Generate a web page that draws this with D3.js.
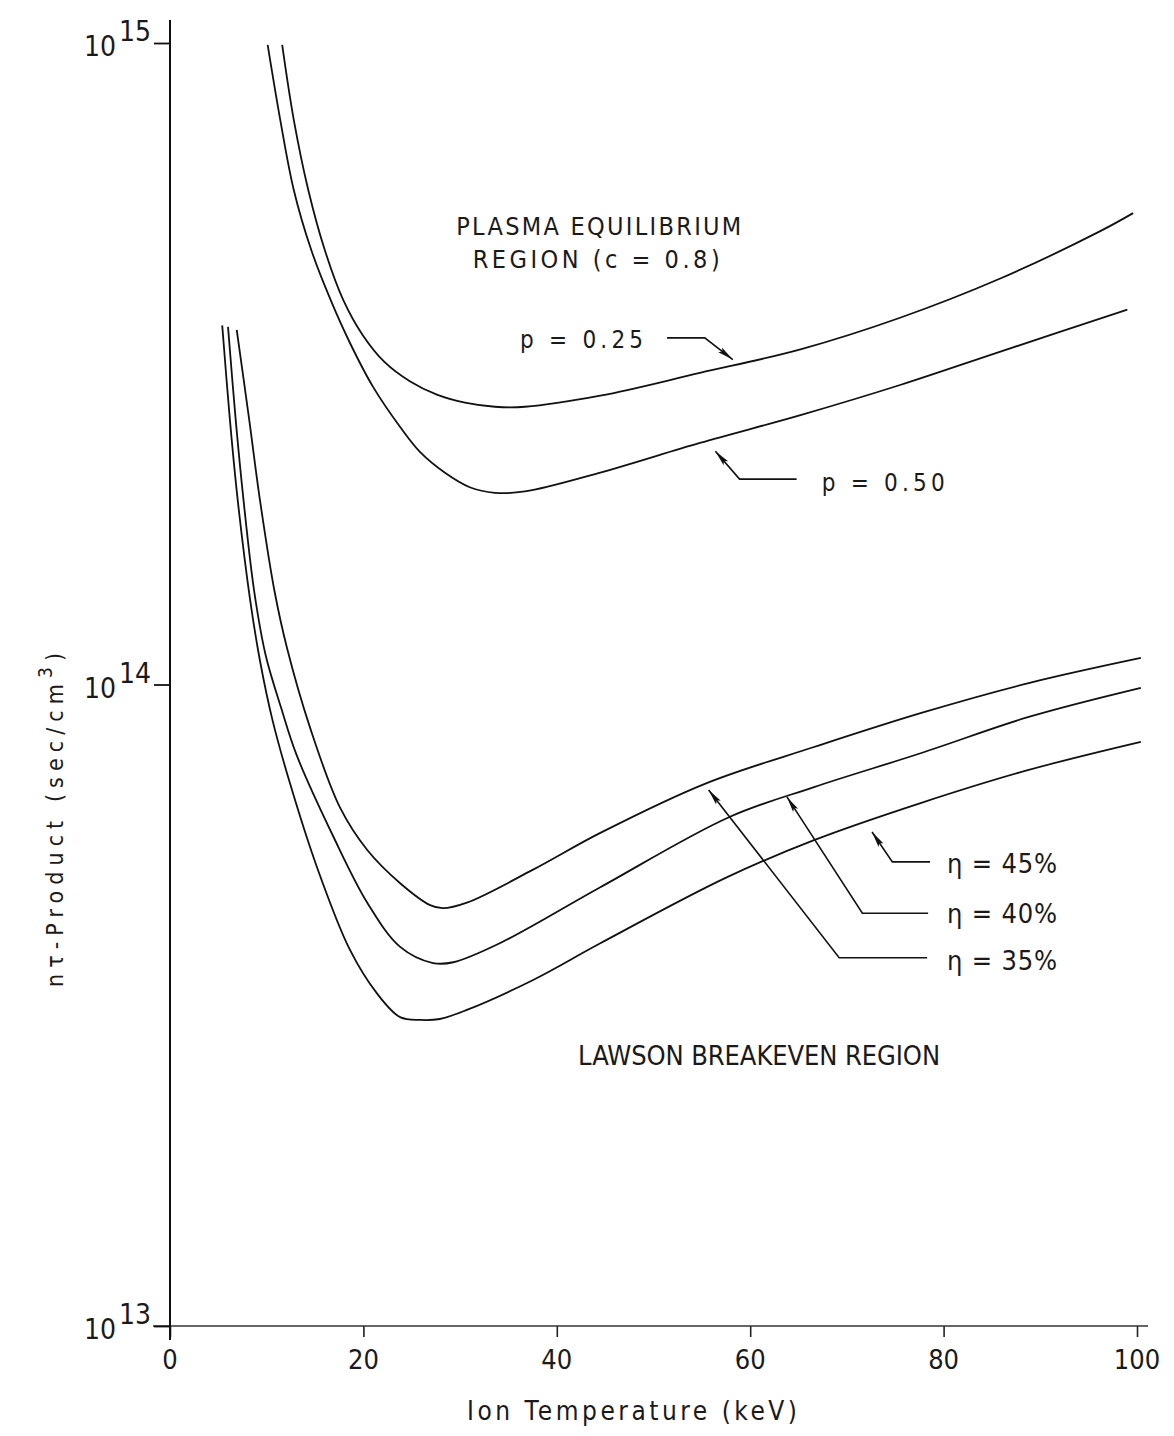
<!DOCTYPE html>
<html><head><meta charset="utf-8">
<script src="https://cdn.jsdelivr.net/npm/d3@7"></script>
<style>
html,body{margin:0;padding:0;background:#fff;}
svg{display:block;}
text{font-family:"Liberation Sans Narrow","DejaVu Sans Condensed","Arial Narrow","Liberation Sans",sans-serif;fill:#1a1a1a;}
</style></head><body>
<svg id="chart" width="1174" height="1436"></svg>
<script>
// ---- tick labels ----
const xTicks = [0, 20, 40, 60, 80, 100];
const yTicks = [1e13, 1e14, 1e15];
const yTickExp = ["13", "14", "15"];

// ---- series: Ion temperature (keV) and n-tau product (sec/cm^3) ----
const p025T = [11.6, 12.8, 14.3, 16.0, 17.9, 19.9, 22.2, 24.8, 27.6, 30.5, 33.6, 36.7, 44.5, 54.8, 65.2, 75.5, 85.8, 96.2, 99.6];
const p025N = [9.93e14, 7.59e14, 5.90e14, 4.76e14, 3.98e14, 3.51e14, 3.18e14, 2.97e14, 2.83e14, 2.75e14, 2.71e14, 2.71e14, 2.82e14, 3.06e14, 3.33e14, 3.73e14, 4.29e14, 5.09e14, 5.43e14];

const p050T = [10.1, 11.4, 12.8, 14.6, 16.6, 18.6, 21.0, 23.8, 25.9, 28.4, 31.0, 33.6, 36.7, 44.5, 54.8, 65.2, 75.5, 85.8, 99.0];
const p050N = [9.93e14, 7.59e14, 5.90e14, 4.76e14, 3.98e14, 3.41e14, 2.91e14, 2.52e14, 2.30e14, 2.14e14, 2.03e14, 1.99e14, 2.00e14, 2.14e14, 2.38e14, 2.63e14, 2.93e14, 3.30e14, 3.84e14];

const eta35T = [6.9, 8.2, 9.3, 10.8, 12.1, 14.5, 17.6, 20.4, 23.8, 26.9, 28.2, 30.7, 37.5, 44.5, 55.5, 66.6, 77.7, 88.8, 100.4];
const eta35N = [3.57e14, 2.58e14, 1.94e14, 1.40e14, 1.14e14, 8.55e13, 6.42e13, 5.52e13, 4.90e13, 4.53e13, 4.48e13, 4.57e13, 5.14e13, 5.87e13, 7.02e13, 7.99e13, 9.03e13, 1.005e14, 1.10e14];

const eta40T = [6.0, 6.8, 7.6, 8.7, 9.9, 11.5, 13.1, 16.9, 20.4, 23.8, 27.2, 29.3, 34.1, 44.5, 57.8, 66.6, 77.7, 88.8, 100.4];
const eta40N = [3.61e14, 2.58e14, 1.94e14, 1.40e14, 1.11e14, 9.19e13, 7.76e13, 5.79e13, 4.57e13, 3.90e13, 3.68e13, 3.69e13, 3.95e13, 4.83e13, 6.21e13, 6.92e13, 7.82e13, 8.90e13, 9.88e13];

const eta45T = [5.4, 6.2, 7.0, 8.3, 9.3, 10.6, 12.4, 15.2, 18.6, 21.4, 23.8, 25.9, 27.9, 30.7, 37.5, 44.5, 57.4, 66.6, 77.7, 88.8, 100.4];
const eta45N = [3.63e14, 2.58e14, 1.94e14, 1.35e14, 1.09e14, 8.80e13, 7.02e13, 5.19e13, 3.86e13, 3.30e13, 3.03e13, 3.00e13, 3.01e13, 3.11e13, 3.46e13, 3.95e13, 4.99e13, 5.72e13, 6.54e13, 7.36e13, 8.14e13];

// ---- annotations (anchored in data units) ----
const labels = [
  {txt: "PLASMA EQUILIBRIUM", t: 29.6, n: 5.02e14, w: 285, fs: 25},
  {txt: "REGION (c = 0.8)", t: 31.3, n: 4.46e14, w: 247, fs: 25},
  {txt: "p = 0.25", t: 36.2, n: 3.35e14, w: 123, fs: 24},
  {txt: "p = 0.50", t: 67.4, n: 2.00e14, w: 123, fs: 24},
  {txt: "LAWSON BREAKEVEN REGION", t: 42.2, n: 2.55e13, w: 362, fs: 27},
  {txt: "η = 45%", t: 80.35, n: 5.08e13, w: 110, fs: 27},
  {txt: "η = 40%", t: 80.35, n: 4.25e13, w: 110, fs: 27},
  {txt: "η = 35%", t: 80.35, n: 3.59e13, w: 110, fs: 27}
];
const leaders = [
  [[51.4, 3.47e14], [55.3, 3.47e14], [58.2, 3.21e14]],
  [[64.8, 2.09e14], [58.9, 2.09e14], [56.4, 2.31e14]],
  [[78.6, 5.29e13], [74.7, 5.29e13], [72.6, 5.89e13]],
  [[78.4, 4.40e13], [71.6, 4.40e13], [63.8, 6.68e13]],
  [[78.3, 3.75e13], [69.2, 3.75e13], [55.7, 6.85e13]]
];

const svg = d3.select("#chart");
const x = d3.scaleLinear().domain([0, 100]).range([170, 1137]);
const y = d3.scaleLog().domain([1e13, 1e15]).range([1326, 43]);

const defs = svg.append("defs");
defs.append("marker").attr("id", "ah")
  .attr("viewBox", "-17 -4 18 8").attr("refX", 0).attr("refY", 0)
  .attr("markerWidth", 18).attr("markerHeight", 8)
  .attr("markerUnits", "userSpaceOnUse").attr("orient", "auto")
  .append("path").attr("d", "M0,0L-16,-3L-13,0L-16,3Z").attr("fill", "#111");

// axes
const gx = svg.append("g").attr("transform", `translate(0,${y(1e13)})`)
  .call(d3.axisBottom(x).tickValues(xTicks).tickSize(11).tickFormat(""));
gx.select(".domain").remove();
gx.selectAll(".tick line").attr("stroke", "#222").attr("stroke-width", 1.6);
svg.append("line").attr("x1", x(0) - 17).attr("x2", x(100) + 11)
  .attr("y1", y(1e13)).attr("y2", y(1e13)).attr("stroke", "#333").attr("stroke-width", 1.6);

const gy = svg.append("g").attr("transform", `translate(${x(0)},0)`)
  .call(d3.axisLeft(y).tickValues(yTicks).tickSize(16).tickFormat(""));
gy.select(".domain").remove();
gy.selectAll(".tick line").attr("stroke", "#111").attr("stroke-width", 1.8);
svg.append("line").attr("x1", x(0)).attr("x2", x(0))
  .attr("y1", y(1e15) - 23).attr("y2", y(1e13) + 14).attr("stroke", "#111").attr("stroke-width", 2);

xTicks.forEach(t => {
  svg.append("text").attr("x", x(t)).attr("y", y(1e13) + 43)
    .attr("text-anchor", "middle").attr("font-size", 27).text(t);
});
yTicks.forEach((v, i) => {
  const tx = svg.append("text").attr("x", x(0) - 19).attr("y", y(v) + 13)
    .attr("text-anchor", "end").attr("font-size", 28);
  tx.append("tspan").text("10");
  tx.append("tspan").attr("dx", 3).attr("dy", -15).text(yTickExp[i]);
});

// axis titles
svg.append("text").attr("x", 467).attr("y", 1420).attr("font-size", 26)
  .attr("textLength", 330).attr("lengthAdjust", "spacing").text("Ion Temperature (keV)");
const yt = svg.append("text").attr("transform", "translate(63,987) rotate(-90)")
  .attr("font-size", 23).attr("textLength", 334).attr("lengthAdjust", "spacing");
yt.append("tspan").text("nτ-Product (sec/cm");
yt.append("tspan").attr("dy", -11).attr("font-size", 19).text("3");
yt.append("tspan").attr("dy", 11).text(")");

// curves
const line = d3.line().x(d => x(d[0])).y(d => y(d[1])).curve(d3.curveCatmullRom.alpha(0.5));
[[p025T, p025N], [p050T, p050N], [eta35T, eta35N], [eta40T, eta40N], [eta45T, eta45N]].forEach(([T, N]) => {
  svg.append("path").attr("d", line(d3.zip(T, N)))
    .attr("fill", "none").attr("stroke", "#111").attr("stroke-width", 1.8);
});

// leaders
const lline = d3.line().x(d => x(d[0])).y(d => y(d[1]));
leaders.forEach(pts => {
  svg.append("path").attr("d", lline(pts)).attr("fill", "none")
    .attr("stroke", "#111").attr("stroke-width", 1.6).attr("marker-end", "url(#ah)");
});

// labels
labels.forEach(l => {
  svg.append("text").attr("x", x(l.t)).attr("y", y(l.n)).attr("font-size", l.fs)
    .attr("textLength", l.w).attr("lengthAdjust", "spacing").text(l.txt);
});
</script>
</body></html>
